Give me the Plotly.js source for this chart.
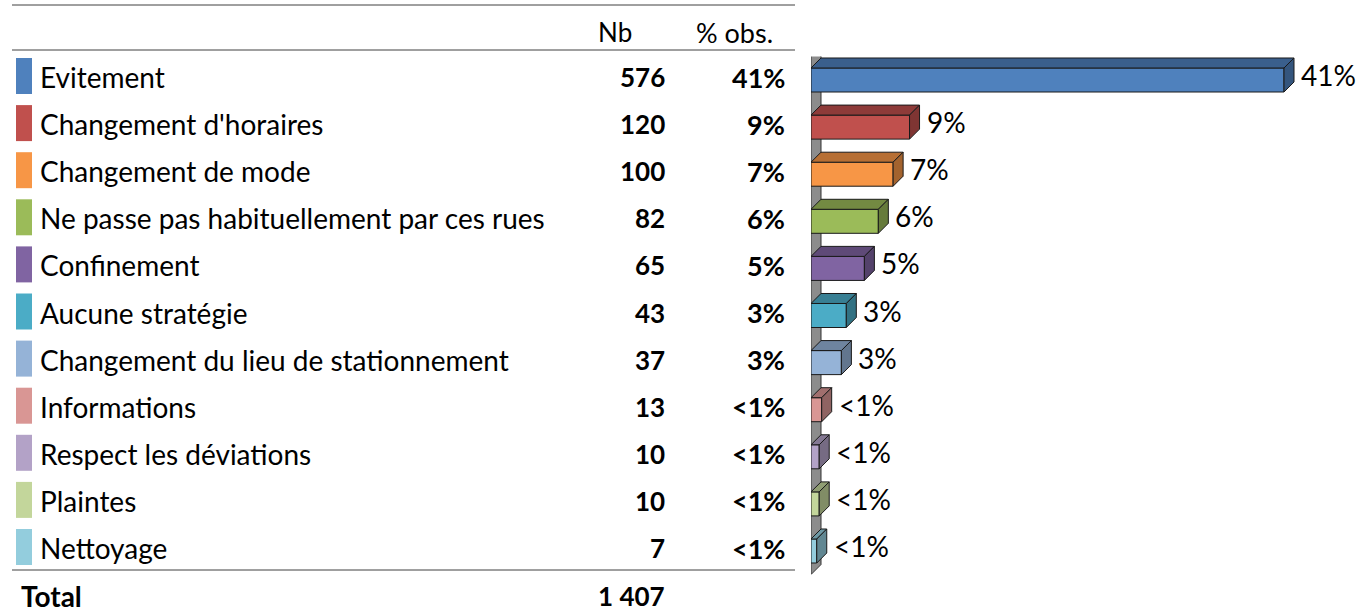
<!DOCTYPE html>
<html>
<head>
<meta charset="utf-8">
<script src="https://cdn.plot.ly/plotly-3.0.1.min.js"></script>
<style>
  html, body { margin: 0; padding: 0; background: #fff; }
  #plot { width: 1365px; height: 612px; }
</style>
</head>
<body>
<div id="plot"></div>
<script>
// data
var categories = [
    "Evitement",
    "Changement d'horaires",
    "Changement de mode",
    "Ne passe pas habituellement par ces rues",
    "Confinement",
    "Aucune stratégie",
    "Changement du lieu de stationnement",
    "Informations",
    "Respect les déviations",
    "Plaintes",
    "Nettoyage"
];
var counts = [576, 120, 100, 82, 65, 43, 37, 13, 10, 10, 7];
var pctLabels = ["41%", "9%", "7%", "6%", "5%", "3%", "3%", "<1%", "<1%", "<1%", "<1%"];
var totalLabel = "1 407";
var colors = ["#4F81BD", "#C0504D", "#F79646", "#9BBB59", "#8064A2", "#4BACC6",
              "#95B3D7", "#D99694", "#B3A2C7", "#C3D69B", "#93CDDD"];

var W = 1365, H = 612;
var FONT = "Lato, 'Open Sans', sans-serif";

// bar area geometry (pixels)
var plotLeft = 811;
var pxPerUnit = 0.8212;
var rowStep = 47.1;
var barTopRow = 80;           // centre of first bar front
var depthPx = 10;

var nRows = categories.length;
var dx = depthPx / pxPerUnit;          // depth in x units
var dy = depthPx / rowStep;            // depth in row units
var barW = 0.51;

function shade(hex, f) {
    var r = parseInt(hex.substr(1, 2), 16), g = parseInt(hex.substr(3, 2), 16), b = parseInt(hex.substr(5, 2), 16);
    return "rgb(" + Math.round(r * f) + "," + Math.round(g * f) + "," + Math.round(b * f) + ")";
}
function px(x) { return x / W; }
function py(y) { return 1 - y / H; }
function textRow(i) { return py(77 + rowStep * i); }

var rows = categories.map(function (c, i) { return i; });

var trace = {
    type: 'bar',
    orientation: 'h',
    x: counts,
    y: rows,
    width: barW,
    marker: { color: colors, line: { color: '#1a1a1a', width: 1 } },
    hoverinfo: 'skip',
    showlegend: false
};

var shapes = [];
// grey back wall
shapes.push({
    type: 'path', xref: 'x', yref: 'y', layer: 'below',
    path: 'M 0,' + (-0.5) + ' L ' + dx + ',' + (-0.5 - dy) + ' L ' + dx + ',' + (nRows - 0.5 - dy) +
          ' L 0,' + (nRows - 0.5) + ' Z',
    fillcolor: '#8C8C8C', line: { color: '#333', width: 1 }
});

// 3D faces of each bar
counts.forEach(function (v, i) {
    var yT = i - barW / 2, yB = i + barW / 2;
    shapes.push({
        type: 'path', xref: 'x', yref: 'y',
        path: 'M 0,' + yT + ' L ' + v + ',' + yT + ' L ' + (v + dx) + ',' + (yT - dy) +
              ' L ' + dx + ',' + (yT - dy) + ' Z',
        fillcolor: shade(colors[i], 0.74), line: { color: '#1a1a1a', width: 1 }
    });
    shapes.push({
        type: 'path', xref: 'x', yref: 'y',
        path: 'M ' + v + ',' + yT + ' L ' + (v + dx) + ',' + (yT - dy) + ' L ' + (v + dx) + ',' + (yB - dy) +
              ' L ' + v + ',' + yB + ' Z',
        fillcolor: shade(colors[i], 0.66), line: { color: '#1a1a1a', width: 1 }
    });
    // legend swatch
    shapes.push({
        type: 'rect', xref: 'paper', yref: 'paper',
        x0: px(16), x1: px(32),
        y0: py(58 + rowStep * i), y1: py(94 + rowStep * i),
        fillcolor: colors[i], line: { width: 0 }
    });
});

// table rules
[5, 50, 570].forEach(function (y) {
    shapes.push({
        type: 'line', xref: 'paper', yref: 'paper',
        x0: px(12), x1: px(795), y0: py(y), y1: py(y),
        line: { color: '#404040', width: 1 }
    });
});

var annotations = [];
function txt(x, y, s, anchor, size, bold) {
    annotations.push({
        xref: 'paper', yref: 'paper', x: x, y: y, text: bold ? '<b>' + s + '</b>' : s,
        xanchor: anchor, yanchor: 'middle', showarrow: false,
        font: { family: FONT, size: size, color: '#000' }
    });
}

// header
txt(px(615), py(32), "Nb", 'center', 26, false);
txt(px(734), py(32), "% obs.", 'center', 27, false);

categories.forEach(function (c, i) {
    txt(px(38), textRow(i), c, 'left', 28, false);
    txt(px(667), textRow(i), String(counts[i]), 'right', 26, true);
    txt(px(787), textRow(i), pctLabels[i], 'right', 27, true);
    // value label next to the bar
    annotations.push({
        xref: 'x', yref: 'y', x: counts[i] + dx, y: i, xshift: 5, yshift: 5,
        text: pctLabels[i], xanchor: 'left', yanchor: 'middle', showarrow: false,
        font: { family: FONT, size: 28, color: '#000' }
    });
});

// total row
txt(px(19), py(596), "Total", 'left', 28, true);
txt(px(667), py(596), totalLabel, 'right', 26, true);

var yTop = barTopRow - rowStep / 2;
var yBot = barTopRow + rowStep * (nRows - 0.5);

var layout = {
    width: W,
    height: H,
    margin: { l: 0, r: 0, t: 0, b: 0, pad: 0 },
    paper_bgcolor: '#fff',
    plot_bgcolor: 'rgba(0,0,0,0)',
    xaxis: {
        domain: [plotLeft / W, 1],
        range: [0, (W - plotLeft) / pxPerUnit],
        visible: false, fixedrange: true
    },
    yaxis: {
        domain: [1 - yBot / H, 1 - yTop / H],
        range: [nRows - 0.5, -0.5],
        visible: false, fixedrange: true
    },
    shapes: shapes,
    annotations: annotations
};

Plotly.newPlot('plot', [trace], layout, { displayModeBar: false, staticPlot: true });
</script>
</body>
</html>
